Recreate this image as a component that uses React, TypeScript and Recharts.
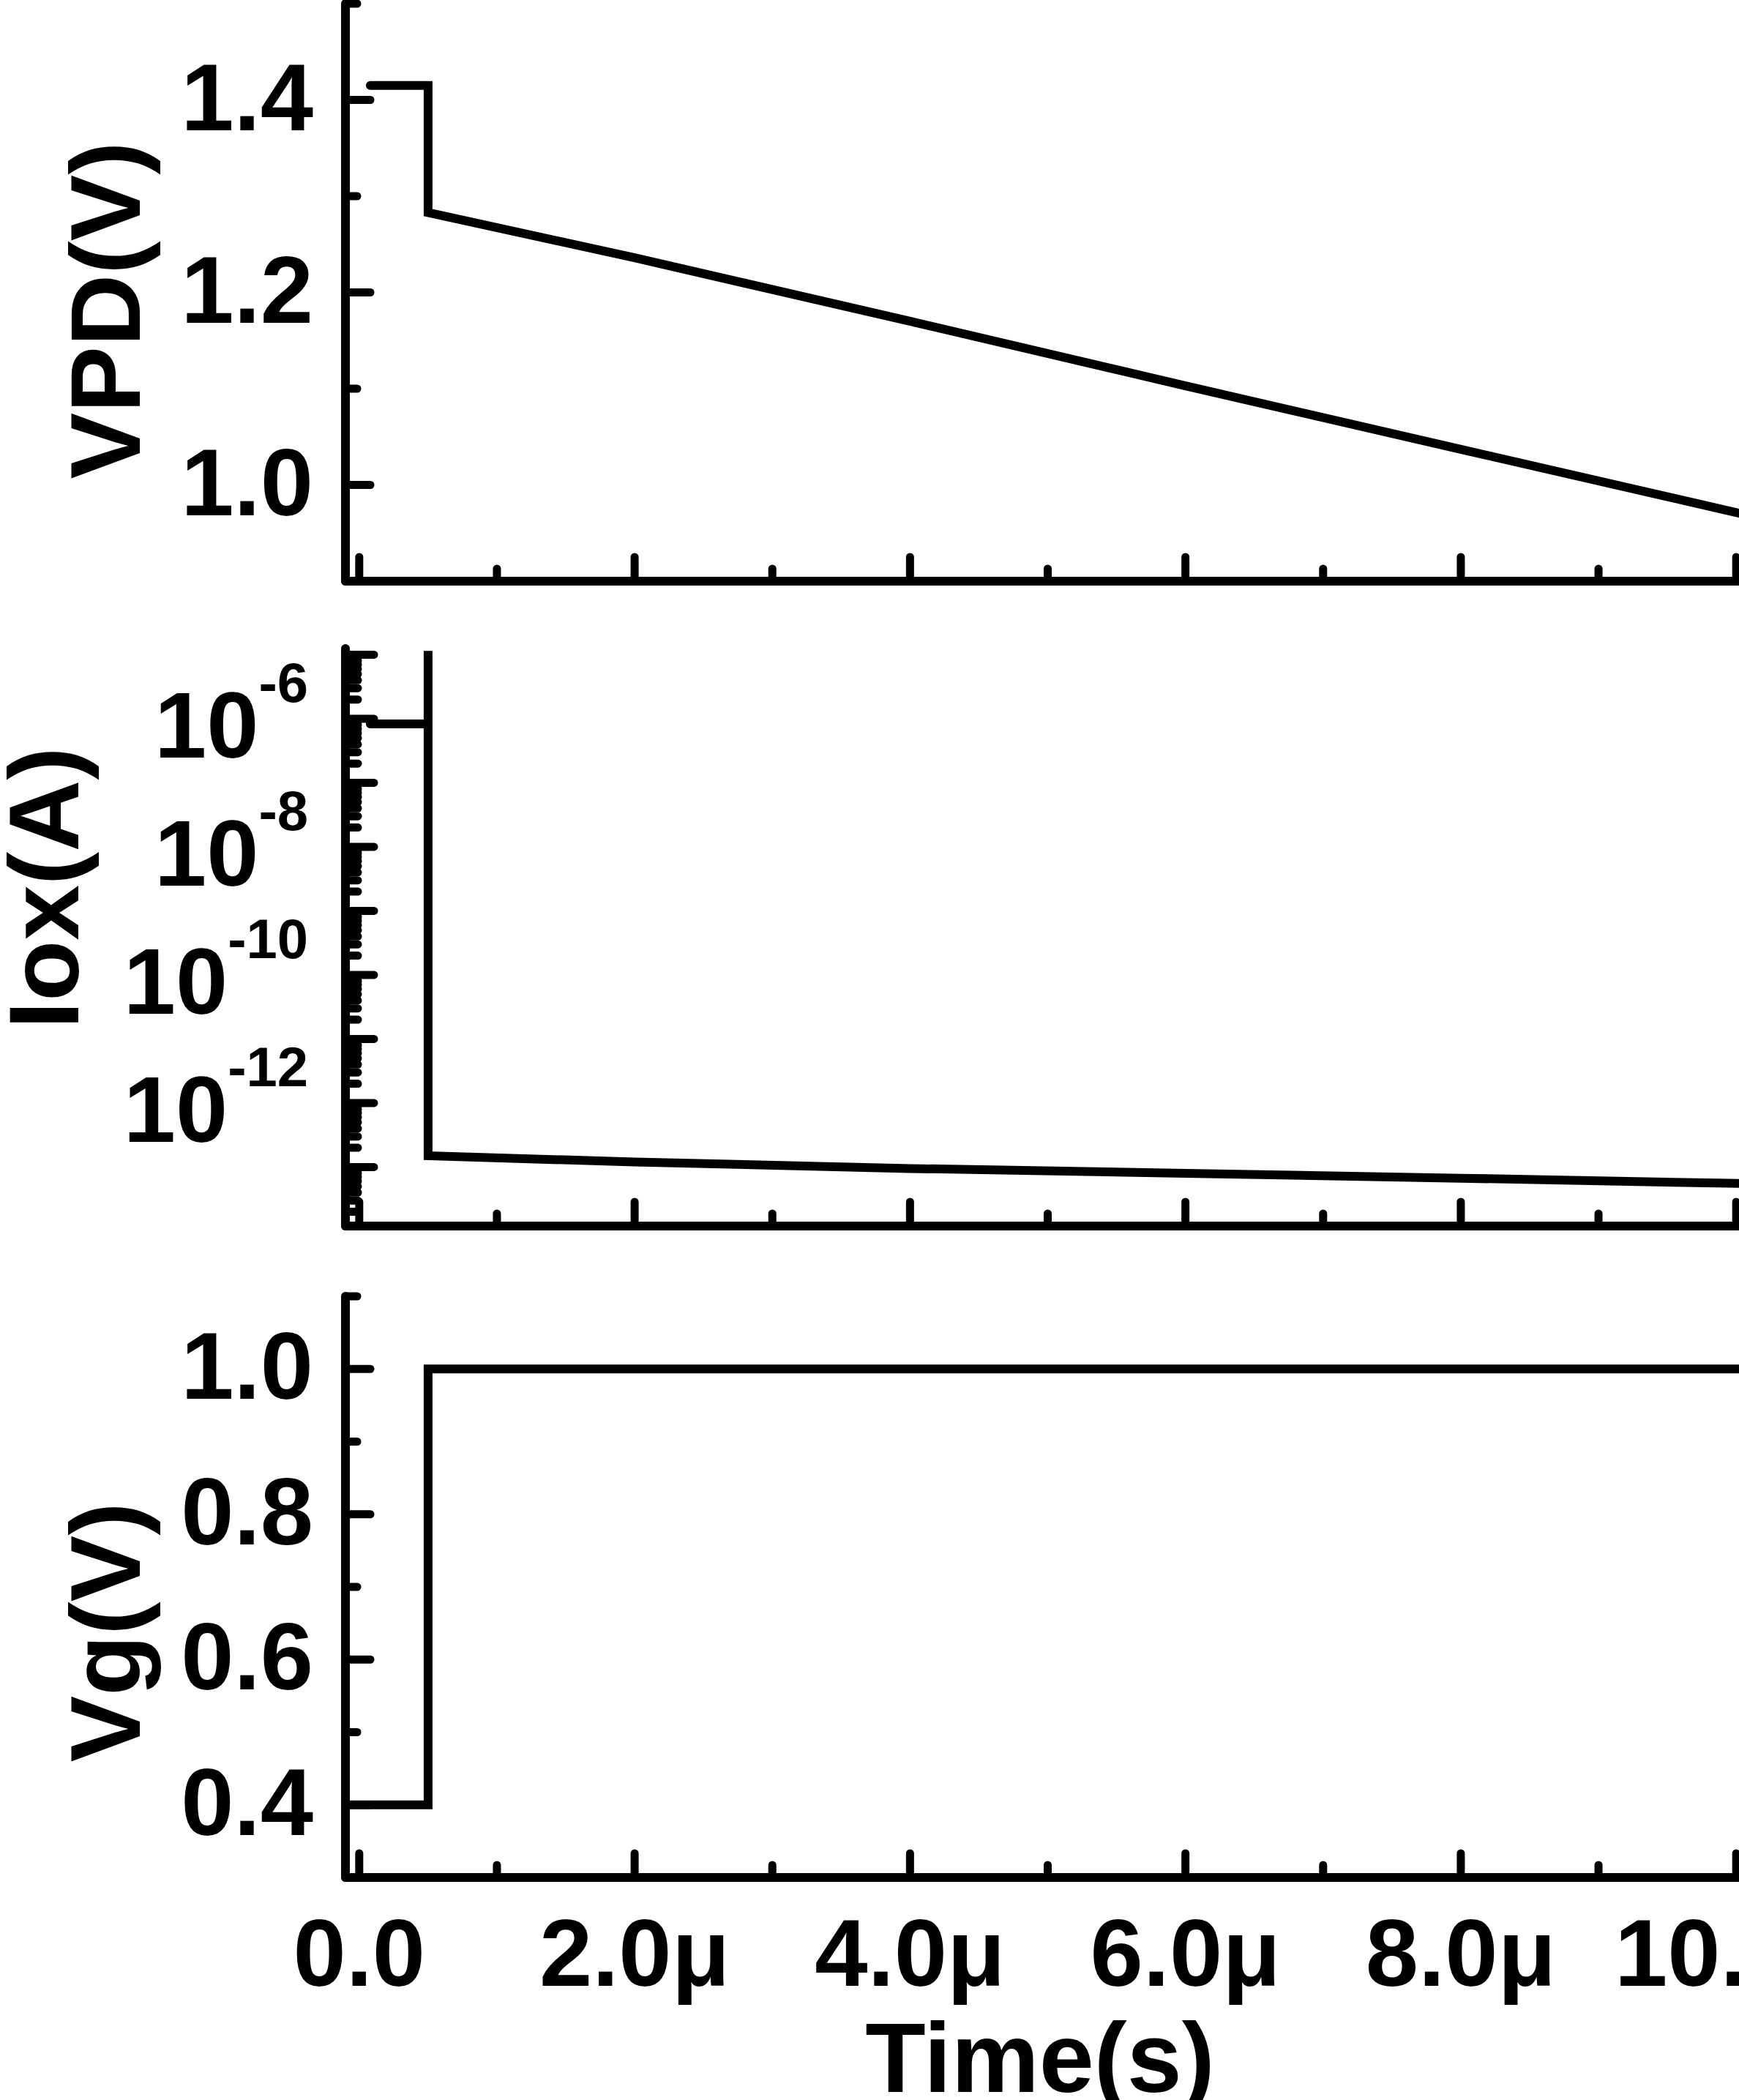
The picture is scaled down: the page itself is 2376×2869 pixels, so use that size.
import { Line, LineChart, XAxis, YAxis } from "recharts";

const FONT = "'Liberation Sans', Arial, Helvetica, sans-serif";

// time axis, in µs
const timeDomain = [-0.1, 10.1];
const timeMajor = [0, 2, 4, 6, 8, 10];
const timeMinor = [1, 3, 5, 7, 9];
const timeLabels = ["0.0", "2.0μ", "4.0μ", "6.0μ", "8.0μ", "10.0μ"];

// VPD (V)
const vpdTime = [0.08, 0.5, 0.5, 2, 4, 6, 8, 10.1];
const vpdValue = [1.415, 1.415, 1.283, 1.236, 1.17, 1.103, 1.037, 0.968];
const vpdMajor = [1.0, 1.2, 1.4];
const vpdMinor = [1.1, 1.3, 1.5];

// Iox (A), log axis
const ioxTime = [0.08, 0.5, 0.5, 0.5, 2, 4, 6, 8, 10.1];
const ioxValue = [8.3e-7, 8.3e-7, 1.15e-5, 1.5e-13, 1.2e-13, 9.5e-14, 8.0e-14, 6.7e-14, 5.5e-14];
const ioxDomain = [1.2e-14, 1.25e-5];
const ioxDecades = [-14, -13, -12, -11, -10, -9, -8, -7, -6, -5];
const ioxLabeled = [-6, -8, -10, -12];
const ioxMinorSteps = [2, 3, 4, 5, 6, 7, 8, 9];

// Vg (V)
const vgTime = [-0.1, 0.5, 0.5, 10.1];
const vgValue = [0.4, 0.4, 1.0, 1.0];
const vgMajor = [0.4, 0.6, 0.8, 1.0];
const vgMinor = [0.5, 0.7, 0.9, 1.1];

const toRows = (ts: number[], vs: number[]) => ts.map((t, i) => ({ t, v: vs[i] }));

const ioxTicks: number[] = [];
ioxDecades.forEach((d) => {
    [1, ...ioxMinorSteps].forEach((m) => {
        const v = m * Math.pow(10, d);
        if (v >= ioxDomain[0] && v <= ioxDomain[1]) ioxTicks.push(v);
    });
});

const CHART_W = 2600;
const AXIS_LEFT = 472;
const PLOT_RIGHT_MARGIN = 209;
const STROKE = 12;
const TICK_W = 11;

const XTick = (props: any) => {
    const { x, y, payload, showLabel } = props;
    const idx = timeMajor.indexOf(payload.value);
    const major = idx >= 0;
    return (
        <g>
            <line x1={x} y1={y} x2={x} y2={y - (major ? 33 : 17)} stroke="#000" strokeWidth={TICK_W} strokeLinecap="round" />
            {showLabel && major && (
                <text x={x} y={y + 148} textAnchor="middle" fontFamily={FONT} fontWeight="bold" fontSize={130} fill="#000">
                    {timeLabels[idx]}
                </text>
            )}
        </g>
    );
};

const LinTick = (props: any) => {
    const { x, y, payload, majors } = props;
    const v = payload.value;
    const major = majors.some((m: number) => Math.abs(m - v) < 1e-9);
    return (
        <g>
            <line x1={x} y1={y} x2={x + (major ? 34 : 16)} y2={y} stroke="#000" strokeWidth={TICK_W} strokeLinecap="round" />
            {major && (
                <text x={x - 44} y={y + 41} textAnchor="end" fontFamily={FONT} fontWeight="bold" fontSize={130} fill="#000">
                    {v.toFixed(1)}
                </text>
            )}
        </g>
    );
};

const LogTick = (props: any) => {
    const { x, y, payload } = props;
    const lg = Math.log10(payload.value);
    const exp = Math.round(lg);
    const decade = Math.abs(lg - exp) < 1e-6;
    const labeled = decade && ioxLabeled.includes(exp);
    return (
        <g>
            <line x1={x} y1={y} x2={x + (decade ? 39 : 17)} y2={y} stroke="#000" strokeWidth={TICK_W} strokeLinecap="round" />
            {labeled && (
                <text x={x - 51} y={y + 53} textAnchor="end" fontFamily={FONT} fontWeight="bold" fontSize={128} fill="#000">
                    <tspan>10</tspan>
                    <tspan dy={-76} fontSize={76}>{`-${Math.abs(exp)}`}</tspan>
                </text>
            )}
        </g>
    );
};

const yTitle = (text: string, baseX: number, offsetY: number) => (props: any) => {
    const vb = props.viewBox;
    const cy = vb.y + offsetY;
    return (
        <text
            x={baseX}
            y={cy}
            transform={`rotate(-90 ${baseX} ${cy})`}
            textAnchor="middle"
            fontFamily={FONT}
            fontWeight="bold"
            fontSize={136}
            fill="#000"
        >
            {text}
        </text>
    );
};

const xTitle = (props: any) => {
    const vb = props.viewBox;
    return (
        <text x={1421} y={vb.y + 293} textAnchor="middle" fontFamily={FONT} fontWeight="bold" fontSize={135} fill="#000">
            Time(s)
        </text>
    );
};

const axisLine = { stroke: "#000", strokeWidth: STROKE, strokeLinecap: "round" as const };

interface PanelProps {
    top: number;
    plotTop: number;
    plotHeight: number;
    xAxisHeight: number;
    children: any;
    rows: { t: number; v: number }[];
}

const Panel = ({ top, plotTop, plotHeight, xAxisHeight, rows, children }: PanelProps) => {
    const mt = plotTop - top;
    return (
        <div style={{ position: "absolute", left: 0, top }}>
            <LineChart
                width={CHART_W}
                height={mt + plotHeight + xAxisHeight}
                data={rows}
                margin={{ top: mt, right: PLOT_RIGHT_MARGIN, bottom: 0, left: 0 }}
            >
                {children}
                <Line
                    type="linear"
                    dataKey="v"
                    stroke="#000"
                    strokeWidth={STROKE}
                    strokeLinecap="round"
                    dot={false}
                    activeDot={false}
                    isAnimationActive={false}
                />
            </LineChart>
        </div>
    );
};

const timeAxis = (height: number, showLabel: boolean) => (
    <XAxis
        dataKey="t"
        type="number"
        domain={timeDomain}
        allowDataOverflow
        ticks={[...timeMajor, ...timeMinor].sort((a, b) => a - b)}
        interval={0}
        height={height}
        tickSize={0}
        tickMargin={0}
        tickLine={false}
        axisLine={axisLine}
        tick={(p: any) => <XTick {...p} showLabel={showLabel} />}
        label={showLabel ? xTitle : undefined}
    />
);

export default function App() {
    return (
        <div
            style={{
                position: "absolute",
                left: 0,
                top: 0,
                width: 2376,
                height: 2869,
                overflow: "hidden",
                background: "#fff",
            }}
        >
            {/* VPD */}
            <Panel top={0} plotTop={5} plotHeight={789} xAxisHeight={40} rows={toRows(vpdTime, vpdValue)}>
                {timeAxis(40, false)}
                <YAxis
                    type="number"
                    domain={[0.9, 1.5]}
                    allowDataOverflow
                    ticks={[...vpdMajor, ...vpdMinor].sort((a, b) => a - b)}
                    interval={0}
                    width={AXIS_LEFT}
                    tickSize={0}
                    tickMargin={0}
                    tickLine={false}
                    axisLine={axisLine}
                    tick={(p: any) => <LinTick {...p} majors={vpdMajor} />}
                    label={yTitle("VPD(V)", 191, 419)}
                />
            </Panel>

            {/* Iox */}
            <Panel top={866} plotTop={886} plotHeight={789} xAxisHeight={40} rows={toRows(ioxTime, ioxValue)}>
                {timeAxis(40, false)}
                <YAxis
                    type="number"
                    scale="log"
                    domain={ioxDomain}
                    allowDataOverflow
                    ticks={ioxTicks}
                    interval={0}
                    width={AXIS_LEFT}
                    tickSize={0}
                    tickMargin={0}
                    tickLine={false}
                    axisLine={axisLine}
                    tick={(p: any) => <LogTick {...p} />}
                    label={yTitle("Iox(A)", 107, 327)}
                />
            </Panel>

            {/* Vg */}
            <Panel top={1751} plotTop={1771} plotHeight={794} xAxisHeight={330} rows={toRows(vgTime, vgValue)}>
                {timeAxis(330, true)}
                <YAxis
                    type="number"
                    domain={[0.3, 1.1]}
                    allowDataOverflow
                    ticks={[...vgMajor, ...vgMinor].sort((a, b) => a - b)}
                    interval={0}
                    width={AXIS_LEFT}
                    tickSize={0}
                    tickMargin={0}
                    tickLine={false}
                    axisLine={axisLine}
                    tick={(p: any) => <LinTick {...p} majors={vgMajor} />}
                    label={yTitle("Vg(V)", 191, 459)}
                />
            </Panel>
        </div>
    );
}
